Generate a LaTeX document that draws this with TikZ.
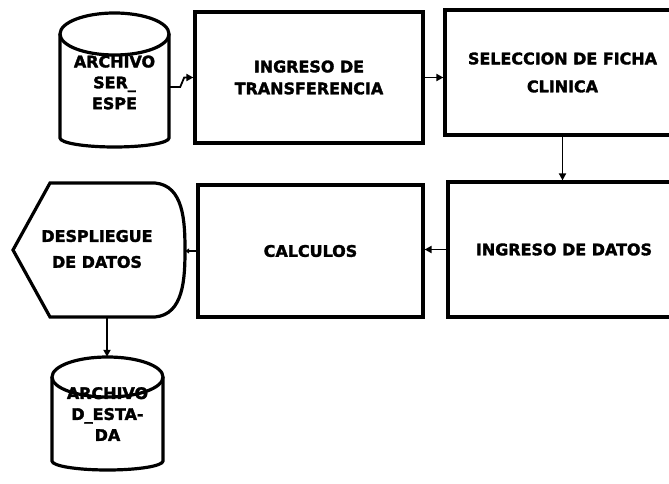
\documentclass[tikz,border=0pt]{standalone}
\usepackage{fontspec}
\newfontfamily\diafont[BoldFeatures={FakeBold=2}]{DejaVu Sans}
\usetikzlibrary{arrows.meta}
\begin{document}
\begin{tikzpicture}[x=1bp,y=-1bp,
  shapeline/.style={draw=black, line width=3.2bp},
  lbl/.style={align=center, inner sep=0pt, font=\diafont\bfseries\fontsize{16}{21}\selectfont},
  proc/.style={shapeline, fill=white, align=center, inner sep=0pt, font=\diafont\bfseries\fontsize{16}{22}\selectfont},
  ghost/.style={inner sep=0pt},
  conn/.style={draw=black, line width=1.8bp, -{Triangle[length=7bp,width=7bp]}},
]
\useasboundingbox (0,0) rectangle (669,484);
\clip (0,0) rectangle (669,484);
\fill[white] (0,0) rectangle (669,484);

% process boxes
\node[proc, minimum width=228bp, minimum height=131bp] (b1) at (309,77.5) {INGRESO DE\\TRANSFERENCIA};
\node[proc, minimum width=235bp, minimum height=125bp] (b2) at (562.5,72.5) {SELECCION DE FICHA\\[6bp]CLINICA};
\node[proc, minimum width=232bp, minimum height=135bp] (b3) at (564,249.5) {INGRESO DE DATOS};
\node[proc, minimum width=225bp, minimum height=132bp] (calc) at (310.5,251) {CALCULOS};

% cylinder 1
\node[ghost, minimum width=109bp, minimum height=134bp] (c1) at (114.5,80) {};
\draw[shapeline] (60,34) -- (60,138) arc[start angle=180, end angle=360, x radius=54.5bp, y radius=9bp] -- (169,34);
\draw[shapeline] (114.5,34) ellipse [x radius=54.5bp, y radius=21bp];
\node[lbl] (c1t) at (114.5,82.5) {ARCHIVO\\SER\_\\ESPE};

% cylinder 2
\node[ghost, minimum width=111bp, minimum height=113bp] (c2) at (107.5,413.5) {};
\draw[shapeline] (52,377) -- (52,461) arc[start angle=180, end angle=360, x radius=55.5bp, y radius=9bp] -- (163,377);
\draw[shapeline] (107.5,377) ellipse [x radius=55.5bp, y radius=20bp];
\node[lbl] (c2t) at (107.5,414) {ARCHIVO\\D\_ESTA-\\DA};

% display shape
\node[ghost, minimum width=172bp, minimum height=134bp] (hx) at (99,250) {};
\draw[shapeline] (13,250) -- (50,183) -- (155,183) to[out=-5,in=90] (185,250) to[out=-90,in=5] (155,317) -- (50,317) -- cycle;
\node[lbl] (hxt) at (97,249) {DESPLIEGUE\\[5bp]DE DATOS};

% connectors
\draw[conn] ([yshift=-7bp]c1.east) -- ++(11,0) -- ++(4,-9.5) -- (b1.west);
\draw[conn] (b1.east) -- (b2.west |- b1.east);
\draw[conn] (b2.south) -- (b2.south |- b3.north);
\draw[conn] (b3.west) -- (calc.east |- b3.west);
\draw[draw=black, line width=1.8bp, -{Triangle[length=4bp,width=5bp]}] (calc.west) -- (calc.west -| hx.east);
\draw[conn] ([xshift=8bp]hx.south) -- ([xshift=8bp]hx.south |- c2.north);
\end{tikzpicture}
\end{document}
